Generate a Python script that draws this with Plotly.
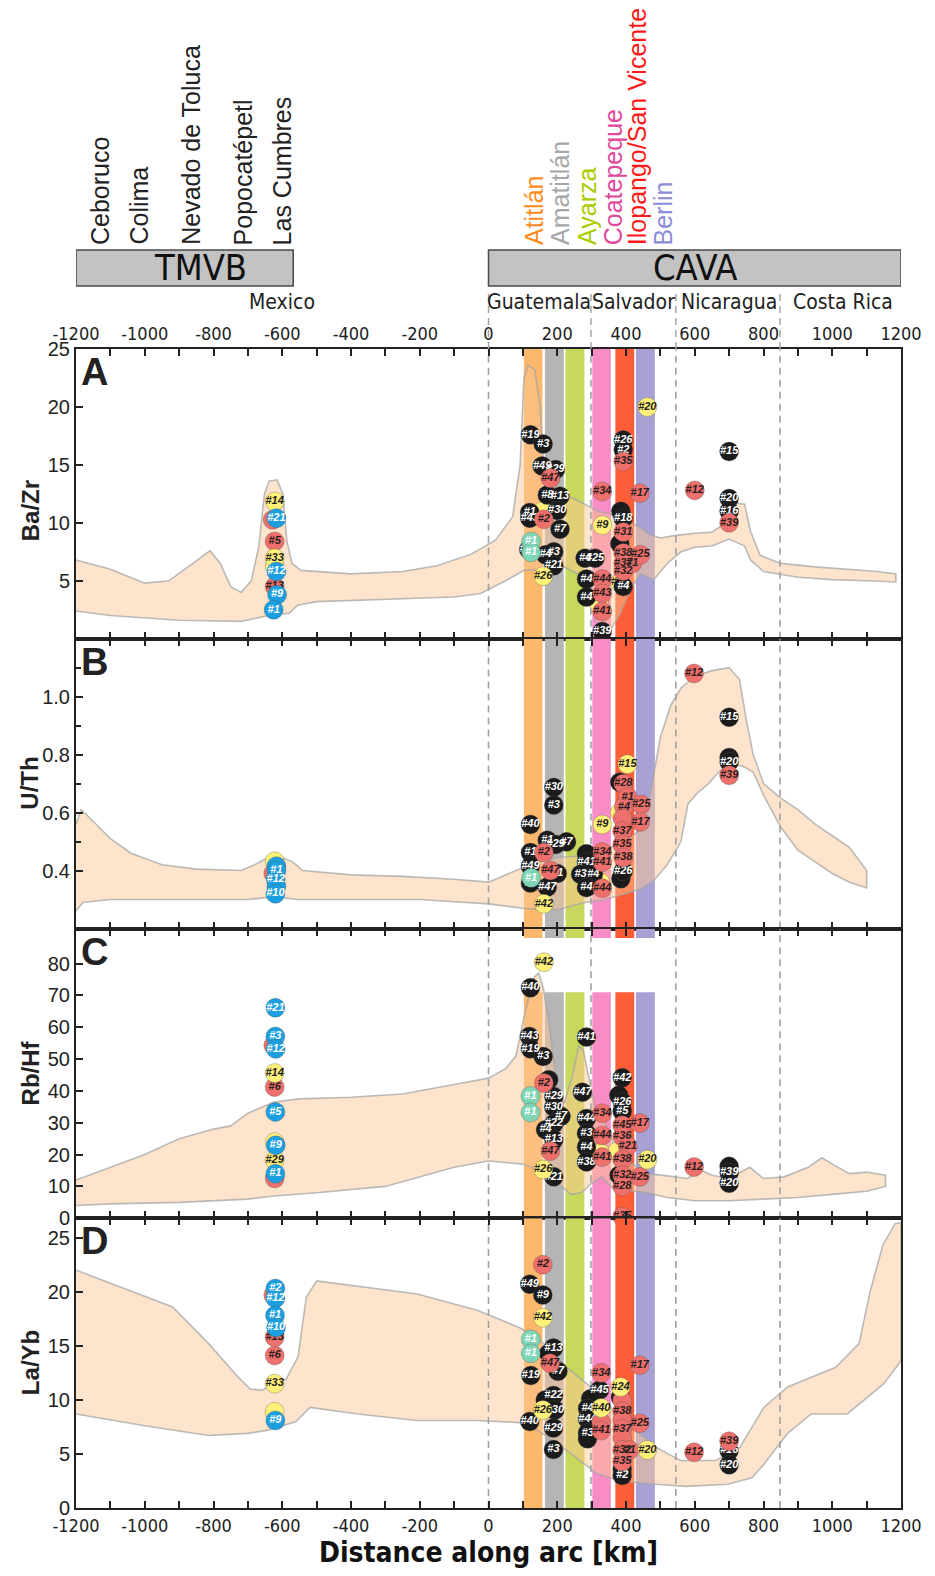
import plotly.graph_objects as go
from plotly.subplots import make_subplots

# ---------------- data ----------------
X_TICKS = list(range(-1200, 1201, 200))
X_TICK_TEXT = [str(v) for v in X_TICKS]
X_MINOR = list(range(-1100, 1200, 200))
DIVIDERS = [0, 298, 545, 848]

ARCS = ["TMVB", "CAVA"]
ARC_X0 = [-1200, 0]
ARC_X1 = [-568, 1200]
ARC_LABEL_X = [-837, 601]

COUNTRIES = ["Mexico", "Guatemala", "Salvador", "Nicaragua", "Costa Rica"]
COUNTRY_X = [-600, 148, 423, 700, 1030]

VOLC_TMVB = ["Ceboruco", "Colima", "Nevado de Toluca", "Popocatépetl", "Las Cumbres"]
VOLC_TMVB_X = [-1130, -1018, -866, -713, -601]

VOLC_CAVA = ["Atitlán", "Amatitlán", "Ayarza", "Coatepeque", "Ilopango/San Vicente", "Berlin"]
VOLC_CAVA_X = [131, 208, 285, 363, 431, 509]
VOLC_CAVA_TEXT_COLORS = ["#FF8C1A", "#A6A6A6", "#AACC00", "#E0489A", "#FF1A1A", "#8C8CD8"]

BAND_X0 = [103, 164, 224, 302, 369, 429]
BAND_X1 = [157, 219, 279, 356, 424, 484]
BAND_COLORS = ["#FDB86C", "#B5B5B5", "#C8D85C", "#F78DC4", "#FF5C38", "#A9A1D4"]

PANELS = ["A", "B", "C", "D"]
Y_TITLES = ["Ba/Zr", "U/Th", "Rb/Hf", "La/Yb"]
Y_RANGES = [[0, 25], [0.2, 1.2], [0, 91], [0, 26.8]]
Y_TICKS = [[5, 10, 15, 20, 25], [0.4, 0.6, 0.8, 1.0],
           [0, 10, 20, 30, 40, 50, 60, 70, 80], [0, 5, 10, 15, 20, 25]]
C_BAND_SPANS = [(0, 71), (88, 91)]

# envelopes (upper edge left->right, lower edge right->left)
A_UP_X = [-1200, -1100, -1000, -930, -860, -810, -780, -750, -720, -690, -668, -652, -638, -615,
          -598, -587, -572, -545, -400, -250, -150, -50, 20, 70, 92, 103, 115, 135, 150, 160, 175,
          200, 240, 280, 320, 360, 400, 440, 470, 500, 540, 600, 650, 690, 720, 745, 762, 790, 850,
          950, 1050, 1130, 1185]
A_UP_Y = [6.8, 6.0, 4.8, 5.0, 6.5, 7.6, 6.5, 4.5, 4.0, 5.0, 8.0, 12.5, 13.6, 13.7, 12.5, 8.5, 6.5,
          5.9, 5.6, 5.8, 6.3, 7.3, 8.5, 10.5, 15.0, 22.5, 23.6, 23.2, 20.0, 15.0, 13.2, 12.6, 12.2,
          11.6, 11.0, 10.7, 10.2, 9.6, 9.0, 8.7, 8.9, 9.1, 9.2, 10.0, 11.7, 11.6, 9.3, 7.2, 6.5, 6.2,
          6.0, 5.8, 5.6]
A_LO_X = [1185, 1100, 1000, 900, 800, 762, 745, 700, 650, 600, 560, 520, 481, 442, 420, 404, 380,
          355, 330, 310, 295, 280, 219, 160, 103, 50, -23, -100, -300, -500, -555, -580, -640, -720,
          -900, -1100, -1200]
A_LO_Y = [4.9, 5.0, 5.1, 5.3, 5.8, 6.8, 8.0, 8.6, 8.0, 7.9, 7.5, 6.5, 5.1, 5.6, 4.6, 3.6, 2.0, 0.8,
          0.45, 1.8, 4.5, 5.3, 6.2, 6.0, 5.9, 5.0, 3.9, 3.6, 3.4, 3.2, 2.9, 2.2, 2.0, 1.5, 1.6, 2.0, 2.4]

B_UP_X = [-1200, -1185, -1150, -1100, -1040, -950, -850, -720, -680, -650, -600, -570, -540, -400,
          -250, -100, 0, 60, 100, 150, 200, 260, 330, 400, 440, 470, 500, 530, 560, 600, 650, 700,
          730, 750, 770, 800, 850, 900, 950, 1000, 1050, 1100]
B_UP_Y = [0.56, 0.61, 0.57, 0.51, 0.46, 0.42, 0.405, 0.40, 0.42, 0.44, 0.445, 0.43, 0.40, 0.385,
          0.38, 0.37, 0.36, 0.39, 0.41, 0.43, 0.445, 0.45, 0.47, 0.50, 0.54, 0.66, 0.86, 0.97, 1.03,
          1.07, 1.09, 1.10, 1.06, 0.92, 0.80, 0.70, 0.65, 0.61, 0.56, 0.52, 0.48, 0.40]
B_LO_X = [1100, 1050, 1000, 950, 900, 850, 800, 770, 740, 700, 670, 640, 610, 580, 560, 520, 480,
          440, 400, 340, 280, 200, 150, 100, 0, -200, -500, -560, -620, -700, -900, -1100, -1180, -1200]
B_LO_Y = [0.34, 0.36, 0.39, 0.43, 0.47, 0.55, 0.66, 0.74, 0.76, 0.77, 0.74, 0.70, 0.67, 0.63, 0.50,
          0.42, 0.365, 0.335, 0.32, 0.30, 0.29, 0.265, 0.265, 0.27, 0.285, 0.30, 0.30, 0.30, 0.31,
          0.30, 0.30, 0.30, 0.29, 0.26]

C_UP_X = [-1200, -1100, -1000, -900, -800, -750, -700, -624, -550, -400, -250, -100, 0, 50, 80, 103,
          132, 146, 160, 175, 200, 220, 245, 262, 275, 298, 310, 337, 365, 404, 462, 520, 578, 620,
          650, 700, 760, 800, 860, 930, 970, 1000, 1050, 1100, 1155]
C_UP_Y = [12, 16, 20, 25, 28, 29, 33, 36.5, 37.5, 38, 39, 42, 44, 47, 51, 63, 75.6, 77, 72, 62, 41,
          36, 45, 54, 53, 41, 35, 30.5, 23, 18, 14, 13.3, 12.5, 15, 13.5, 12.5, 16, 12.5, 13, 16, 19,
          17, 14, 14.5, 13.5]
C_LO_X = [1155, 1100, 1000, 900, 800, 700, 600, 520, 460, 400, 360, 330, 300, 270, 240, 200, 150,
          100, 0, -100, -300, -500, -624, -700, -900, -1100, -1200]
C_LO_Y = [10, 8.5, 7.5, 6.5, 6, 5.5, 5.5, 6.5, 8, 9, 9.5, 13, 11, 8, 7.5, 11, 15, 17, 18, 16, 10, 8,
          7, 6, 5, 4.5, 4]

D_UP_X = [-1200, -919, -814, -728, -693, -658, -623, -589, -554, -530, -500, -345, -207, -33, 89,
          141, 228, 297, 384, 488, 558, 662, 731, 801, 870, 939, 1009, 1078, 1110, 1148, 1183, 1200]
D_UP_Y = [22.0, 18.6, 15.2, 12.1, 11.0, 10.9, 11.6, 11.9, 14.0, 19.5, 21.0, 20.4, 19.8, 18.3, 16.7,
          15.8, 13.0, 11.2, 8.4, 5.6, 4.4, 4.4, 5.6, 9.3, 11.2, 12.1, 13.0, 15.2, 20, 24.4, 26.3, 26.4]
D_LO_X = [1200, 1150, 1044, 939, 870, 800, 766, 696, 575, 488, 384, 314, 260, 200, 141, 89, -33,
          -207, -380, -519, -560, -641, -700, -814, -1000, -1200]
D_LO_Y = [13.6, 11.5, 8.7, 8.7, 6.9, 4.0, 2.8, 2.2, 2.0, 2.2, 2.5, 3.2, 4.5, 6.0, 7.2, 7.9, 8.1, 8.1,
          8.7, 9.3, 8.0, 7.2, 6.9, 6.7, 7.6, 8.7]

# sample points: (distance, value, label)  grouped by symbol colour
A_BLACK = [(122, 17.6, '#19'), (159, 16.8, '#3'), (156, 14.9, '#49'), (195, 14.6, '#29'),
           (171, 12.4, '#8'), (208, 12.3, '#13'), (200, 11.06, '#30'), (120, 10.9, '#1'),
           (120, 10.4, '#43'), (208, 9.45, '#7'), (117, 7.7, '#40'), (166, 7.25, '#4'),
           (190, 7.5, '#3'), (190, 6.3, '#21'), (281, 6.95, '#4'), (310, 6.95, '#25'),
           (285, 5.15, '#4'), (285, 3.6, '#4'), (331, 0.63, '#39'), (392, 17.15, '#26'),
           (392, 16.3, '#2'), (385, 11.0, ''), (392, 10.4, '#18'), (382, 8.2, ''), (392, 4.5, '#4'),
           (700, 16.15, '#15'), (700, 12.1, '#20'), (700, 11.0, '#16')]
A_SALMON = [(-628, 10.26, ''), (-622, 8.4, '#5'), (-622, 4.5, '#13'),
            (180, 13.85, '#47'), (161, 10.3, '#2'), (331, 12.7, '#34'), (331, 5.15, '#44'),
            (331, 3.9, '#43'), (331, 2.35, '#41'), (392, 15.3, '#35'), (392, 9.2, '#31'),
            (392, 7.4, '#38'), (418, 6.5, '#1'), (392, 6.5, '#37'), (392, 5.85, '#32'),
            (442, 7.25, '#25'), (440, 12.55, '#17'), (600, 12.8, '#12'), (700, 10.0, '#39')]
A_YELLOW = [(-622, 11.84, '#14'), (-622, 6.95, '#33'), (159, 5.4, '#26'), (462, 20.0, '#20'),
            (331, 9.8, '#9')]
A_YELLOW_BACK = [(-622, 6.3, ''), (156, 11.0, ''), (382, 4.85, '#11'), (322, 3.0, '')]
A_TEAL = [(124, 8.4, '#1'), (124, 7.45, '#1')]
A_BLUE = [(-617, 10.4, '#21'), (-617, 5.8, '#12'), (-615, 3.8, '#9'), (-625, 2.5, '#1')]

B_BLACK = [(190, 0.687, '#30'), (190, 0.626, '#3'), (122, 0.559, '#40'), (227, 0.499, '#7'),
           (171, 0.505, '#1'), (195, 0.49, '#29'), (122, 0.462, '#1'), (122, 0.415, '#49'),
           (200, 0.39, '#1'), (122, 0.357, '#1'), (171, 0.343, '#47'), (285, 0.458, ''),
           (285, 0.429, '#41'), (268, 0.387, '#3'), (305, 0.387, '#4'), (285, 0.341, '#4'),
           (382, 0.705, ''), (385, 0.372, ''), (392, 0.398, '#26'), (700, 0.929, '#15'),
           (700, 0.79, ''), (700, 0.775, '#20')]
B_SALMON = [(-626, 0.39, ''), (161, 0.462, '#2'), (180, 0.40, '#47'), (392, 0.70, '#28'),
            (405, 0.654, '#1'), (394, 0.62, '#4'), (444, 0.628, '#25'), (442, 0.568, '#17'),
            (390, 0.58, ''), (389, 0.536, '#37'), (389, 0.49, '#35'), (392, 0.445, '#38'),
            (331, 0.464, '#34'), (331, 0.429, '#41'), (331, 0.339, '#44'), (598, 1.08, '#12'),
            (700, 0.729, '#39')]
B_YELLOW = [(-622, 0.432, ''), (161, 0.285, '#42'), (331, 0.559, '#9'), (404, 0.767, '#15')]
B_YELLOW_BACK = [(325, 0.36, ''), (382, 0.6, '')]
B_TEAL = [(124, 0.375, '#1')]
B_BLUE = [(-617, 0.415, ''), (-617, 0.40, '#1'), (-619, 0.37, '#12'), (-617, 0.345, ''),
          (-620, 0.32, '#10')]

C_BLACK = [(122, 72.4, '#40'), (119, 57.1, '#43'), (122, 53.2, '#19'), (159, 50.8, '#3'),
           (285, 56.9, '#41'), (175, 43.5, ''), (273, 39.6, '#47'), (190, 38.2, '#29'),
           (190, 34.9, '#30'), (211, 32.0, '#7'), (190, 29.7, '#22'), (166, 27.8, '#4'),
           (190, 24.7, '#13'), (190, 13.0, '#21'), (389, 44.1, '#42'), (379, 38.6, ''),
           (389, 36.5, '#26'), (389, 33.6, '#5'), (285, 31.3, '#44'), (285, 26.6, '#3'),
           (285, 22.4, '#4'), (285, 17.7, '#38'), (380, 13.5, ''), (700, 16.3, ''),
           (700, 14.3, '#39'), (700, 11.0, '#20')]
C_SALMON = [(-626, 54.3, ''), (-622, 41.2, '#6'), (-622, 12.5, ''),
            (161, 42.5, '#2'), (180, 21.1, '#47'), (331, 33.0, '#34'), (331, 26.0, '#44'),
            (331, 19.2, '#41'), (389, 29.2, '#45'), (440, 29.9, '#17'), (389, 25.7, '#36'),
            (405, 22.6, '#21'), (389, 18.4, '#38'), (389, 13.5, '#32'), (440, 13.0, '#25'),
            (389, 10.0, '#28'), (598, 16.1, '#12'), (389, 0.5, '#35')]
C_YELLOW = [(-622, 45.6, '#14'), (-622, 18.2, '#29'), (161, 80.4, '#42'), (159, 15.3, '#26'),
            (462, 18.4, '#20')]
C_YELLOW_BACK = [(-622, 23.9, ''), (325, 20.5, ''), (375, 21.0, '')]
C_TEAL = [(122, 38.4, '#1'), (122, 33.2, '#1')]
C_BLUE = [(-620, 66.1, '#21'), (-620, 57.1, '#3'), (-619, 53.2, '#12'), (-620, 33.4, '#5'),
          (-619, 22.9, '#9'), (-620, 14.0, '#1')]

D_BLACK = [(120, 20.7, '#49'), (158, 19.7, '#9'), (189, 14.8, '#13'), (175, 14.3, ''),
           (202, 12.65, '#7'), (123, 12.25, '#19'), (189, 10.4, '#22'), (165, 10.0, ''),
           (193, 9.07, '#30'), (120, 8.0, '#40'), (189, 7.4, '#29'), (189, 5.4, '#3'),
           (323, 10.9, '#45'), (297, 10.1, ''), (288, 9.2, '#4'), (288, 8.24, '#44'),
           (288, 6.94, '#3'), (288, 6.4, ''), (384, 10.25, ''), (389, 3.6, ''), (389, 3.0, '#2'),
           (700, 5.3, '#16'), (700, 4.0, '#20')]
D_SALMON = [(-626, 19.7, ''), (-622, 15.8, '#13'), (-622, 14.1, '#6'),
            (158, 22.5, '#2'), (179, 13.4, '#47'), (328, 12.5, '#34'), (328, 7.9, ''),
            (328, 7.16, '#41'), (389, 9.94, ''), (389, 8.95, '#38'), (389, 8.1, ''),
            (389, 7.3, '#37'), (389, 6.5, ''), (389, 5.37, '#32'), (410, 5.37, '#1'),
            (389, 4.3, '#35'), (440, 7.84, '#25'), (440, 13.2, '#17'), (598, 5.15, '#12'),
            (700, 6.17, '#39')]
D_YELLOW = [(-622, 11.5, '#33'), (158, 17.6, '#42'), (158, 9.07, '#26'), (328, 9.26, '#40'),
            (384, 11.2, '#24'), (462, 5.37, '#20')]
D_YELLOW_BACK = [(-622, 8.9, '')]
D_TEAL = [(123, 15.6, '#1'), (123, 14.3, '#1')]
D_BLUE = [(-620, 20.3, '#2'), (-620, 19.4, '#12'), (-621, 17.8, '#1'), (-618, 16.7, '#10'),
          (-620, 8.1, '#9')]

# ---------------- styles ----------------
FONT = "Liberation Sans, Arial, sans-serif"
NARROW = "Liberation Sans Narrow, Arial Narrow, DejaVu Sans Condensed, Liberation Sans, sans-serif"
FILL_ENV = "rgba(252,198,148,0.48)"
LINE_ENV = "rgba(165,165,165,0.75)"
STYLE = {
    'yb': ("#FFF07A", "#222222"),
    'k': ("#1B1B1B", "#FFFFFF"),
    's': ("#EE706C", "#2A1E1E"),
    'y': ("#FFF07A", "#222222"),
    't': ("#7ED6B6", "#FFFFFF"),
    'b': ("#1C9FE0", "#FFFFFF"),
}

ENVS = [(A_UP_X, A_UP_Y, A_LO_X, A_LO_Y), (B_UP_X, B_UP_Y, B_LO_X, B_LO_Y),
        (C_UP_X, C_UP_Y, C_LO_X, C_LO_Y), (D_UP_X, D_UP_Y, D_LO_X, D_LO_Y)]
POINTS = [
    [('yb', A_YELLOW_BACK), ('k', A_BLACK), ('s', A_SALMON), ('y', A_YELLOW), ('t', A_TEAL), ('b', A_BLUE)],
    [('yb', B_YELLOW_BACK), ('k', B_BLACK), ('s', B_SALMON), ('y', B_YELLOW), ('t', B_TEAL), ('b', B_BLUE)],
    [('yb', C_YELLOW_BACK), ('k', C_BLACK), ('s', C_SALMON), ('y', C_YELLOW), ('t', C_TEAL), ('b', C_BLUE)],
    [('yb', D_YELLOW_BACK), ('k', D_BLACK), ('s', D_SALMON), ('y', D_YELLOW), ('t', D_TEAL), ('b', D_BLUE)],
]

W, H = 935, 1576
ML, MR, MT, MB = 76, 34, 349, 68
PH = H - MT - MB


def py(pixel_y):
    return (H - MB - pixel_y) / PH


fig = make_subplots(rows=4, cols=1, vertical_spacing=0)

for i in range(4):
    row = i + 1
    sfx = "" if row == 1 else str(row)
    yr = Y_RANGES[i]
    spans = C_BAND_SPANS if i == 2 else [tuple(yr)]
    for x0, x1, col in zip(BAND_X0, BAND_X1, BAND_COLORS):
        for (b0, b1) in spans:
            fig.add_shape(type="rect", xref="x" + sfx, yref="y" + sfx, x0=x0, x1=x1, y0=b0, y1=b1,
                          fillcolor=col, line=dict(width=0), layer="below")
    ux, uy, lx, ly = ENVS[i]
    fig.add_trace(go.Scatter(x=ux + lx, y=uy + ly, mode="lines", fill="toself",
                             fillcolor=FILL_ENV, line=dict(color=LINE_ENV, width=1.6),
                             hoverinfo="skip", showlegend=False), row=row, col=1)
    for d in DIVIDERS:
        fig.add_trace(go.Scatter(x=[d, d], y=yr, mode="lines",
                                 line=dict(color="#A0A0A0", width=1.6, dash="7px,5px"),
                                 hoverinfo="skip", showlegend=False), row=row, col=1)
    for grp, pts in POINTS[i]:
        mcol, tcol = STYLE[grp]
        fig.add_trace(go.Scatter(
            x=[p[0] for p in pts], y=[p[1] for p in pts], text=[p[2] for p in pts],
            mode="markers+text", textposition="middle center", cliponaxis=False,
            marker=dict(size=19, color=mcol, line=dict(color="rgba(80,80,80,0.55)", width=0.6)),
            textfont=dict(family=FONT, size=11, color=tcol, weight="bold", style="italic"),
            hoverinfo="skip", showlegend=False), row=row, col=1)

    fig.update_xaxes(row=row, col=1, range=[-1200, 1200], tickvals=X_TICKS, ticktext=X_TICK_TEXT,
                     ticks="inside", ticklen=7, tickwidth=1.5, tickcolor="#222",
                     showline=True, linewidth=2, linecolor="#222", mirror="allticks",
                     showgrid=False, zeroline=False, automargin=False,
                     minor=dict(tickvals=X_MINOR, ticks="inside", ticklen=7, tickwidth=1.5,
                                tickcolor="#222"),
                     showticklabels=(row in (1, 4)), side="top" if row == 1 else "bottom",
                     tickfont=dict(family=NARROW, size=18, color="#222"))
    yextra = {}
    if i == 1:
        yextra = dict(tickformat=".1f",
                      minor=dict(tickvals=[0.5, 0.7, 0.9, 1.1], ticks="inside", ticklen=5,
                                 tickwidth=1.5, tickcolor="#222"))
    fig.update_yaxes(row=row, col=1, range=yr, tickvals=Y_TICKS[i], ticks="inside", ticklen=7,
                     tickwidth=1.5, tickcolor="#222", showline=True, linewidth=2,
                     linecolor="#222", mirror=True, showgrid=False, zeroline=False,
                     automargin=False,
                     tickfont=dict(family=FONT, size=20, color="#222"), **yextra)
    fig.add_annotation(xref="x" + sfx + " domain", yref="y" + sfx + " domain", x=0.004, y=1.0,
                       xanchor="left", yanchor="top", text="<b>%s</b>" % PANELS[i],
                       showarrow=False, font=dict(family=FONT, size=38, color="#222"))
    fig.add_annotation(xref="paper", yref="y" + sfx + " domain", x=(30 - ML) / (W - ML - MR),
                       y=0.44 if i == 0 else 0.5, xanchor="center", yanchor="middle",
                       text="<b>%s</b>" % Y_TITLES[i], textangle=-90, showarrow=False,
                       font=dict(family=FONT, size=24, color="#222"))

for name, x0, x1, xl in zip(ARCS, ARC_X0, ARC_X1, ARC_LABEL_X):
    fig.add_shape(type="rect", xref="x", yref="paper", x0=x0, x1=x1, y0=py(286), y1=py(250),
                  fillcolor="#C3C3C3", line=dict(color="#4A4A4A", width=1.5))
    fig.add_annotation(xref="x", yref="paper", x=xl, y=py(268), text=name, showarrow=False,
                       xanchor="center", yanchor="middle",
                       font=dict(family=NARROW, size=36, color="#111"))
for d in DIVIDERS:
    fig.add_shape(type="line", xref="x", yref="paper", x0=d, x1=d, y0=1.0, y1=py(290),
                  line=dict(color="#A0A0A0", width=1.4, dash="7px,5px"))
for name, cx in zip(COUNTRIES, COUNTRY_X):
    fig.add_annotation(xref="x", yref="paper", x=cx, y=py(302), text=name, showarrow=False,
                       xanchor="center", yanchor="middle",
                       font=dict(family=NARROW, size=21, color="#222"))
for name, vx in zip(VOLC_TMVB, VOLC_TMVB_X):
    fig.add_annotation(xref="x", yref="paper", x=vx, y=py(247), text=name, textangle=-90,
                       showarrow=False, xanchor="center", yanchor="bottom",
                       font=dict(family=FONT, size=25, color="#222"))
for name, vx, col in zip(VOLC_CAVA, VOLC_CAVA_X, VOLC_CAVA_TEXT_COLORS):
    fig.add_annotation(xref="x", yref="paper", x=vx, y=py(247), text=name, textangle=-90,
                       showarrow=False, xanchor="center", yanchor="bottom",
                       font=dict(family=FONT, size=25, color=col))
fig.add_annotation(xref="paper", yref="paper", x=0.5, y=py(1552), xanchor="center",
                   yanchor="middle", text="<b>Distance along arc [km]</b>", showarrow=False,
                   font=dict(family=NARROW, size=28, color="#111"))

fig.update_layout(width=W, height=H, margin=dict(l=ML, r=MR, t=MT, b=MB),
                  plot_bgcolor="white", paper_bgcolor="white", showlegend=False)

fig.write_html("out.html", config={"displayModeBar": False},
               post_script="document.body.style.margin='0';document.body.style.padding='0';")
